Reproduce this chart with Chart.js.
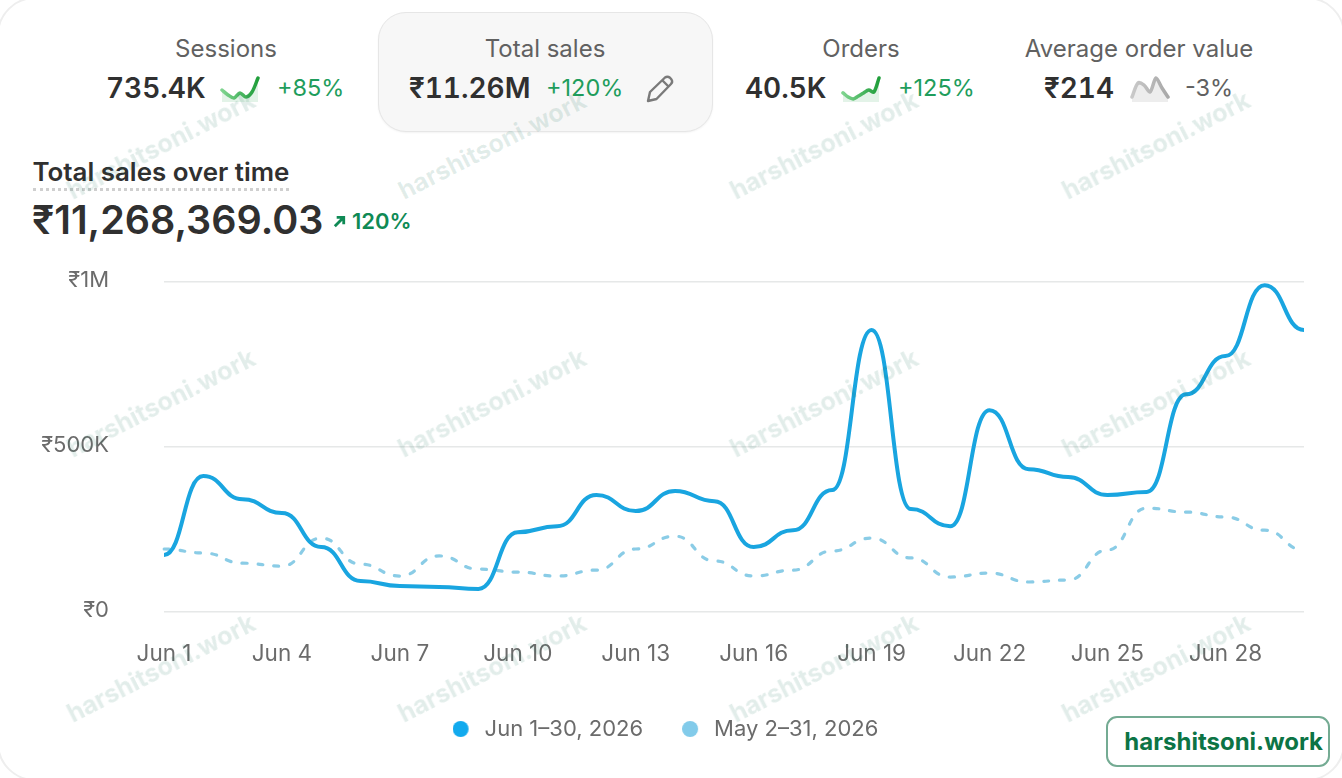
<!DOCTYPE html>
<html>
<head>
<meta charset="utf-8">
<title>Total sales over time</title>
<script src="https://cdn.jsdelivr.net/npm/chart.js@4"></script>
<style>
  html, body { margin: 0; padding: 0; background: #fff; }
  body { width: 1342px; height: 778px; overflow: hidden; position: relative; font-family: Inter, "Noto Sans", sans-serif; color: #303030; }
  #card { position: absolute; left: -3px; top: -3px; width: 1344px; height: 780px; background: #fff; border: 2px solid #eeeeee; border-radius: 38px; }
  .abs { position: absolute; white-space: nowrap; }
  .kpi-title { top: 35px; font-size: 24px; line-height: 27px; color: #616161; transform: translateX(-50%); }
  .kpi-val { top: 71px; font-size: 28px; line-height: 34px; font-weight: 600; color: #303030; font-variant-numeric: tabular-nums; }
  .kpi-pct { top: 73px; font-size: 23.5px; line-height: 30px; color: #1f9d5c; }
  #active { left: 378px; top: 12px; width: 333px; height: 118px; background: #f7f7f7; border: 1px solid #e6e6e6; border-radius: 28px; box-shadow: 0 1px 2px rgba(0,0,0,.05); }
  .spark { position: absolute; }
  #title { left: 32.5px; top: 157px; font-size: 25.9px; line-height: 30px; font-weight: 600; border-bottom: 3px dotted #cfcfcf; padding-bottom: 1px; }
  #total { left: 32px; top: 196px; font-size: 39.5px; line-height: 48px; font-weight: 600; }
  #delta { top: 207px; font-size: 22px; line-height: 28px; font-weight: 600; color: #0f8a55; }
  #main-wrap { position: absolute; left: 0; top: 214px; width: 1342px; height: 536px; }
  .wm { font-size: 25px; line-height: 32px; font-weight: 700; color: rgba(20,110,80,.12); transform: translate(-50%,-50%) rotate(-27deg); pointer-events: none; z-index: 5; }
  #badge { left: 1106px; top: 716px; width: 220px; height: 47px; background: #fff; border: 2px solid #74ab93; border-radius: 11px; font-size: 24px; line-height: 47px; font-weight: 700; color: #0c7445; text-align: right; z-index: 6; }
  #badge span { margin-right: 5px; }
</style>
</head>
<body>
<div id="card"></div>
<div id="active" class="abs"></div>

<div class="abs kpi-title" style="left:226px">Sessions</div>
<div class="abs kpi-val" style="left:106px">735.4K</div>
<canvas class="spark" id="sp1" width="40" height="28" style="left:220px;top:76px"></canvas>
<div class="abs kpi-pct" style="left:277px">+85%</div>

<div class="abs kpi-title" style="left:545px">Total sales</div>
<div class="abs kpi-val" style="left:409px">₹11.26M</div>
<div class="abs kpi-pct" style="left:546px">+120%</div>
<svg class="abs" style="left:645px;top:74px" width="30" height="30" viewBox="0 0 30 30" fill="none" stroke="#7a7a7a" stroke-width="2.4" stroke-linejoin="round">
  <path d="M3 27 L5 18 L20 3.5 Q22.5 1.8 25 3.8 L26.5 5.5 Q28 8 26 10 L11.5 25 Z"/><path d="M17.5 6.5 L23.5 12.5"/>
</svg>

<div class="abs kpi-title" style="left:861px">Orders</div>
<div class="abs kpi-val" style="left:745px">40.5K</div>
<canvas class="spark" id="sp2" width="40" height="28" style="left:841px;top:76px"></canvas>
<div class="abs kpi-pct" style="left:898px">+125%</div>

<div class="abs kpi-title" style="left:1139px">Average order value</div>
<div class="abs kpi-val" style="left:1044px">₹214</div>
<canvas class="spark" id="sp3" width="40" height="28" style="left:1130px;top:76px"></canvas>
<div class="abs kpi-pct" style="left:1185px;color:#616161">-3%</div>

<div class="abs" id="title">Total sales over time</div>
<div class="abs" id="total">₹11,268,369.03</div>
<svg class="abs" style="left:332px;top:214px" width="15" height="15" viewBox="0 0 16 16" fill="none" stroke="#0f8a55" stroke-width="3"><path d="M3 13 L12 4 M5 3.5 H12.5 V11"/></svg>
<div class="abs" id="delta" style="left:352px">120%</div>

<div id="main-wrap"><canvas id="chart"></canvas></div>

<div class="abs" id="badge"><span>harshitsoni.work</span></div>

<script>
const days = ['Jun 1','Jun 2','Jun 3','Jun 4','Jun 5','Jun 6','Jun 7','Jun 8','Jun 9','Jun 10',
  'Jun 11','Jun 12','Jun 13','Jun 14','Jun 15','Jun 16','Jun 17','Jun 18','Jun 19','Jun 20',
  'Jun 21','Jun 22','Jun 23','Jun 24','Jun 25','Jun 26','Jun 27','Jun 28','Jun 29','Jun 30']
const current = [173,412,342,300,197,94,79,76,70,242,260,355,306,367,336,197,248,370,855,312,
  260,612,433,409,355,364,660,776,991,855]
const previous = [191,179,148,139,224,145,109,170,130,121,109,127,191,230,155,109,127,185,224,164,
  106,118,91,97,188,315,303,288,248,188]
const yTicks = [0, 500, 1000]
const yLabels = { 0: '₹0', 500: '₹500K', 1000: '₹1M' }
const legendNames = ['Jun 1–30, 2026', 'May 2–31, 2026']

const sessionsSpark = [7,4.1,2.3,5.3,2.9,5.8,14]
const ordersSpark = [5.3,2.9,1.8,3.5,5.3,7,5.8,14]
const aovSpark = [2.9,11.1,9.9,5.8,14,8.2,2.9]

// the faint repeated watermark
const wmX = [161, 492, 824, 1156]
const wmY = [145, 403, 668]
wmY.forEach(y => wmX.forEach(x => {
  const d = document.createElement('div')
  d.className = 'abs wm'
  d.textContent = 'harshitsoni.work'
  d.style.left = x + 'px'
  d.style.top = y + 'px'
  document.body.appendChild(d)
}))

Chart.defaults.font.family = 'Inter, "Noto Sans", sans-serif'
Chart.defaults.animation = false

// dot sits 2px left in its box so the legend text clears it like the original
function legendDot(color) {
  const c = document.createElement('canvas')
  c.width = 20
  c.height = 16
  const g = c.getContext('2d')
  g.fillStyle = color
  g.beginPath()
  g.arc(8, 8, 8, 0, Math.PI * 2)
  g.fill()
  return c
}

// the original curve goes flat at every day, so make the bezier handles horizontal
const flatTangents = {
  id: 'flatTangents',
  beforeDatasetDraw(chart, args) {
    const line = args.meta.dataset
    line.updateControlPoints(chart.chartArea)
    const pts = args.meta.data
    pts.forEach((p, i) => {
      const prev = pts[i - 1], next = pts[i + 1]
      if (prev) { p.cp1x = p.x - (p.x - prev.x) * 0.5; p.cp1y = p.y }
      if (next) { p.cp2x = p.x + (next.x - p.x) * 0.5; p.cp2y = p.y }
    })
  }
}

function spark(id, values, light, dark, fill) {
  new Chart(document.getElementById(id), {
    type: 'line',
    data: {
      labels: values.map((v, i) => i),
      datasets: [{
        data: values,
        fill: true,
        backgroundColor: fill,
        borderWidth: 3.5,
        borderCapStyle: 'round',
        pointRadius: 0,
        tension: 0.3,
        clip: 4,
        borderColor: c => {
          const area = c.chart.chartArea
          if (!area) return dark
          const g = c.chart.ctx.createLinearGradient(area.left, 0, area.right, 0)
          g.addColorStop(0, light)
          g.addColorStop(1, dark)
          return g
        }
      }]
    },
    options: {
      responsive: false,
      layout: { padding: 2 },
      plugins: { legend: { display: false }, tooltip: { enabled: false } },
      scales: { x: { display: false }, y: { display: false, min: 0, max: 14 } }
    }
  })
}
spark('sp1', sessionsSpark, '#7fd48f', '#1f9e3a', 'rgba(60,170,90,.14)')
spark('sp2', ordersSpark, '#7fd48f', '#1f9e3a', 'rgba(60,170,90,.14)')
spark('sp3', aovSpark, '#c9c9c9', '#a8a8a8', 'rgba(0,0,0,.07)')

new Chart(document.getElementById('chart'), {
  type: 'line',
  plugins: [flatTangents],
  data: {
    labels: days,
    datasets: [
      {
        label: legendNames[0],
        data: current,
        borderColor: '#19a5e0',
        backgroundColor: '#12aaee',
        borderWidth: 4,
        pointRadius: 0,
        pointStyle: legendDot('#12aaee'),
        tension: 0.4
      },
      {
        label: legendNames[1],
        data: previous,
        borderColor: '#8accE6',
        backgroundColor: '#82cbea',
        borderWidth: 3.2,
        borderDash: [5, 11],
        borderCapStyle: 'round',
        pointRadius: 0,
        pointStyle: legendDot('#82cbea'),
        tension: 0.4
      }
    ]
  },
  options: {
    responsive: true,
    maintainAspectRatio: false,
    layout: { padding: { top: 10, right: 38, left: 26, bottom: 0 } },
    plugins: {
      tooltip: { enabled: false },
      legend: {
        position: 'bottom',
        labels: {
          usePointStyle: true,
          boxHeight: 22,
          padding: 38,
          color: '#6b6b6b',
          font: { size: 22 }
        }
      }
    },
    scales: {
      x: {
        grid: { display: false },
        border: { display: false },
        afterFit: s => { s.height = 68 },
        ticks: {
          autoSkip: false,
          maxRotation: 0,
          padding: 21,
          color: '#6b6b6b',
          font: { size: 22.5 },
          callback: (v, i) => i % 3 === 0 ? days[i] : ''
        }
      },
      y: {
        min: 0,
        max: 1000,
        afterFit: s => { s.width = 138 },
        afterBuildTicks: s => { s.ticks = yTicks.map(v => ({ value: v })) },
        grid: { color: '#e6e8e8', lineWidth: 1.5, drawTicks: false },
        border: { display: false },
        ticks: {
          padding: 55,
          labelOffset: -2,
          color: '#6b6b6b',
          font: { size: 22 },
          callback: v => yLabels[v]
        }
      }
    }
  }
})
</script>
</body>
</html>
